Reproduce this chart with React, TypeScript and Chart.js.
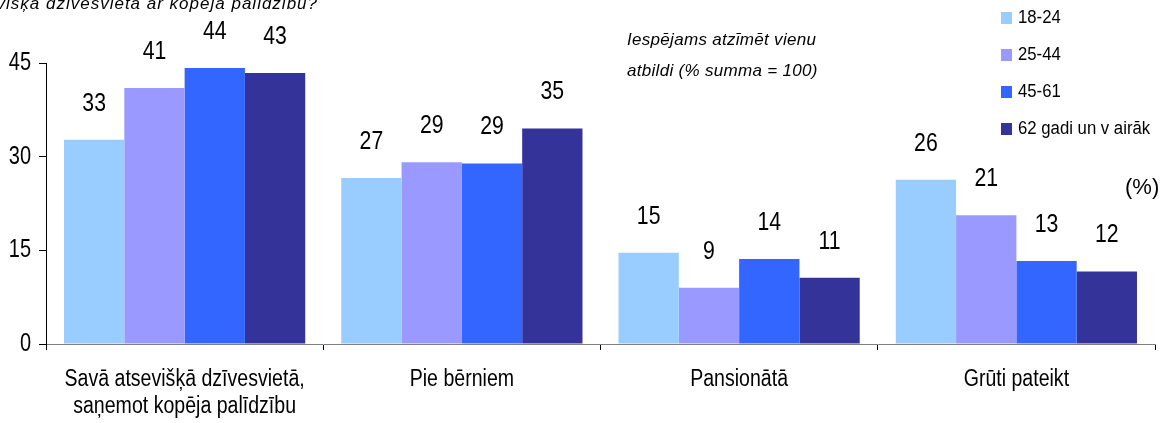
import React, { useEffect, useRef } from "react";
import { Chart, registerables } from "chart.js";

Chart.register(...registerables);

const categories: string[][] = [
  ["Savā atsevišķā dzīvesvietā,", "saņemot kopēja palīdzību"],
  ["Pie bērniem"],
  ["Pansionātā"],
  ["Grūti pateikt"],
];
const seriesNames = ["18-24", "25-44", "45-61", "62 gadi un v airāk"];
const age18_24 = [32.7, 26.6, 14.6, 26.3];
const age25_44 = [41.0, 29.1, 9.0, 20.6];
const age45_61 = [44.2, 28.9, 13.6, 13.3];
const age62plus = [43.4, 34.5, 10.6, 11.6];
const colors = ["#99CCFF", "#9999FF", "#3366FF", "#333399"];
const yTicks = [0, 15, 30, 45];
const noteLines = ["Iespējams atzīmēt vienu", "atbildi (% summa = 100)"];
const titleText = "Savā atsevišķā dzīvesvietā ar kopēja palīdzību?";
const unitText = "(%)";

const SANS = "'Liberation Sans', Arial, sans-serif";

function condensed(
  ctx: CanvasRenderingContext2D,
  text: string,
  x: number,
  y: number,
  font: string,
  sx: number,
  align: CanvasTextAlign,
  baseline: CanvasTextBaseline
) {
  ctx.save();
  ctx.font = font;
  ctx.textAlign = align;
  ctx.textBaseline = baseline;
  ctx.translate(x, y);
  ctx.scale(sx, 1);
  ctx.fillText(text, 0, 0);
  ctx.restore();
}

const overlayPlugin = {
  id: "overlay",
  afterDatasetsDraw(chart: any) {
    const ctx = chart.ctx as CanvasRenderingContext2D;
    ctx.save();
    ctx.fillStyle = "#000";
    chart.data.datasets.forEach((ds: any, i: number) => {
      const meta = chart.getDatasetMeta(i);
      meta.data.forEach((bar: any, j: number) => {
        condensed(ctx, String(Math.round(ds.data[j])), bar.x, bar.y - 36, `25px ${SANS}`, 0.85, "center", "middle");
      });
    });
    ctx.restore();
  },
  afterDraw(chart: any) {
    const ctx = chart.ctx as CanvasRenderingContext2D;
    ctx.save();
    ctx.fillStyle = "#000";
    // axis labels
    const xs = chart.scales.x;
    categories.forEach((lines, i) => {
      const px = xs.getPixelForTick(i);
      lines.forEach((ln, k) => {
        condensed(ctx, ln, px, 386 + k * 27, `23px ${SANS}`, 0.85, "center", "alphabetic");
      });
    });
    const ys = chart.scales.y;
    yTicks.forEach((v) => {
      condensed(ctx, String(v), 31, ys.getPixelForValue(v), `25px ${SANS}`, 0.8, "right", "middle");
    });
    // title (clipped at top)
    ctx.font = `italic 17px ${SANS}`;
    (ctx as any).letterSpacing = "1px";
    ctx.textAlign = "right";
    ctx.textBaseline = "alphabetic";
    ctx.fillText(titleText, 318, 9);
    // note
    (ctx as any).letterSpacing = "0.3px";
    ctx.textAlign = "left";
    ctx.font = `italic 17px ${SANS}`;
    ctx.fillText(noteLines[0], 627, 45);
    ctx.fillText(noteLines[1], 627, 76);
    (ctx as any).letterSpacing = "0px";
    // legend
    const rows = [18, 55, 92, 129];
    seriesNames.forEach((name, i) => {
      ctx.fillStyle = colors[i];
      ctx.fillRect(1001, rows[i] - 6, 11, 12);
      ctx.fillStyle = "#000";
      condensed(ctx, name, 1018, rows[i], `18px ${SANS}`, 0.93, "left", "middle");
    });
    // unit
    ctx.font = `22px ${SANS}`;
    ctx.textAlign = "left";
    ctx.textBaseline = "middle";
    ctx.fillText(unitText, 1125, 188);
    ctx.restore();
  },
};

export default function App() {
  const ref = useRef<HTMLCanvasElement | null>(null);
  useEffect(() => {
    document.body.style.margin = "0";
    const series = [age18_24, age25_44, age45_61, age62plus];
    const chart = new Chart(ref.current as HTMLCanvasElement, {
      type: "bar",
      data: {
        labels: categories,
        datasets: series.map((d, i) => ({
          label: seriesNames[i],
          data: d,
          backgroundColor: colors[i],
          borderWidth: 0,
          categoryPercentage: 0.87,
          barPercentage: 1,
        })),
      },
      options: {
        animation: false,
        responsive: false,
        maintainAspectRatio: false,
        layout: { padding: { top: 63, right: 12, left: 0, bottom: 0 } },
        plugins: {
          legend: { display: false },
          tooltip: { enabled: false },
          title: { display: false },
        },
        scales: {
          x: {
            grid: {
              display: true,
              offset: true,
              drawOnChartArea: false,
              drawTicks: true,
              tickLength: 6,
              color: "#000",
            },
            border: { display: true, color: "#808080", width: 1 },
            ticks: {
              color: "rgba(0,0,0,0)",
              font: { family: SANS, size: 1 },
              maxRotation: 0,
              autoSkip: false,
            },
            afterFit: (s: any) => {
              s.height = 79;
            },
          },
          y: {
            min: 0,
            max: 45,
            afterBuildTicks: (s: any) => {
              s.ticks = yTicks.map((v) => ({ value: v }));
            },
            grid: {
              display: true,
              drawOnChartArea: false,
              drawTicks: true,
              tickLength: 7,
              color: "#000",
            },
            border: { display: true, color: "#000", width: 1 },
            ticks: {
              color: "rgba(0,0,0,0)",
              font: { family: SANS, size: 1 },
              padding: 0,
            },
            afterFit: (s: any) => {
              s.width = 46;
            },
          },
        },
      },
      plugins: [overlayPlugin],
    });
    return () => chart.destroy();
  }, []);
  return (
    <div style={{ width: 1167, height: 423 }}>
      <canvas ref={ref} width={1167} height={423} />
    </div>
  );
}
